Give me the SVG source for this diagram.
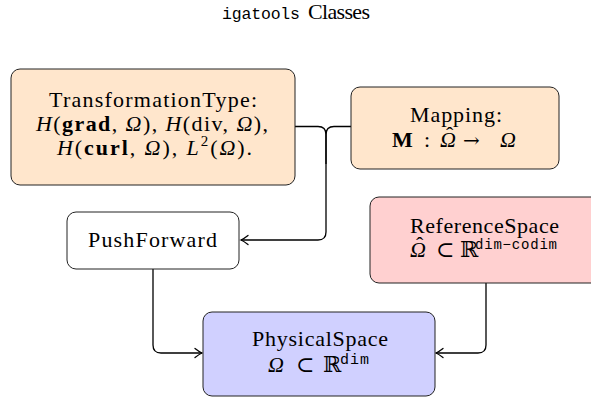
<svg xmlns="http://www.w3.org/2000/svg" width="591" height="398" viewBox="0 0 591 398">
  <style>
    .t { font-family: "Liberation Serif", "DejaVu Serif", serif; font-size: 22px; fill: #000; }
    .i { font-style: italic; }
    .b { font-weight: bold; }
    .m { font-family: "Liberation Mono", "DejaVu Sans Mono", monospace; fill: #000; }
    .arr { font-family: "DejaVu Serif", serif; font-size: 20px; }
    .box { stroke: #222; stroke-width: 1; }
    .orange { fill: #ffe6cc; }
    .red { fill: #ffd0d0; }
    .blue { fill: #d0d0ff; }
    .white { fill: #fff; }
    .edge { fill: none; stroke: #000; stroke-width: 1.3; }
  </style>
  <defs>
    <marker id="arrow" markerUnits="userSpaceOnUse" viewBox="-9 -6 11 12" refX="0" refY="0" markerWidth="11" markerHeight="12" orient="auto" overflow="visible">
      <path d="M-7,-4.5 Q-2.5,-1 0,0 Q-2.5,1 -7,4.5" fill="none" stroke="#000" stroke-width="1.3" stroke-linecap="round"/>
    </marker>
  </defs>

  <rect width="591" height="398" fill="#fff"/>

  <!-- title -->
  <g id="title">
    <text class="m" x="222" y="19" font-size="16.5" textLength="78">igatools</text>
    <text class="t" x="308" y="19" font-size="19" textLength="62">Classes</text>
  </g>

  <!-- connectors -->
  <g id="connectors">
    <path class="edge" d="M295,126.5 H318 Q326,126.5 326,134.5 V232 Q326,240 318,240 H241" marker-end="url(#arrow)"/>
    <path class="edge" d="M351,126.5 H334 Q326,126.5 326,134.5 V164"/>
    <path class="edge" d="M153,269 V345 Q153,353 161,353 H202" marker-end="url(#arrow)"/>
    <path class="edge" d="M486,283 V345 Q486,353 478,353 H436" marker-end="url(#arrow)"/>
  </g>

  <!-- nodes -->
  <g id="transformation-type">
    <rect class="box orange" x="11" y="69" width="284" height="116" rx="9"/>
    <text class="t" x="153" y="107" text-anchor="middle" textLength="208">TransformationType:</text>
    <text class="t" x="152" y="131" text-anchor="middle" textLength="232"><tspan class="i">H</tspan>(<tspan class="b">grad</tspan>, <tspan class="i">Ω</tspan>), <tspan class="i">H</tspan>(div, <tspan class="i">Ω</tspan>),</text>
    <text class="t" x="154.5" y="155" text-anchor="middle" textLength="195"><tspan class="i">H</tspan>(<tspan class="b">curl</tspan>, <tspan class="i">Ω</tspan>), <tspan class="i">L</tspan><tspan font-size="15" dy="-9">2</tspan><tspan dy="9">(</tspan><tspan class="i">Ω</tspan>).</text>
  </g>

  <g id="mapping">
    <rect class="box orange" x="351" y="87" width="208" height="82" rx="9"/>
    <text class="t" x="456" y="122" text-anchor="middle" textLength="92">Mapping:</text>
    <text class="t b" x="392" y="147">M</text>
    <text class="t" x="424" y="147">:</text>
    <!-- Omega with a hat accent -->
    <text class="t" x="440" y="147"><tspan class="i">Ω</tspan><tspan dx="-10" dy="-5">ˆ</tspan></text>
    <text class="t arr" x="463" y="147">→</text>
    <text class="t i" x="500" y="147">Ω</text>
  </g>

  <g id="push-forward">
    <rect class="box white" x="67" y="212" width="172" height="57" rx="9"/>
    <text class="t" x="152.5" y="247" text-anchor="middle" textLength="129">PushForward</text>
  </g>

  <g id="reference-space">
    <rect class="box red" x="370" y="197" width="230" height="86" rx="9"/>
    <text class="t" x="410" y="233" textLength="149">ReferenceSpace</text>
    <text class="t" x="410" y="257"><tspan class="i">Ω</tspan><tspan dx="-10" dy="-5">ˆ</tspan></text>
    <text class="t" x="436" y="257">⊂</text>
    <text class="t" x="460" y="257" font-size="19">ℝ</text>
    <text class="m" x="475" y="249" font-size="14" textLength="82">dim−codim</text>
  </g>

  <g id="physical-space">
    <rect class="box blue" x="203" y="312" width="232" height="84" rx="9"/>
    <text class="t" x="320" y="346" text-anchor="middle" textLength="136">PhysicalSpace</text>
    <text class="t i" x="268" y="372">Ω</text>
    <text class="t" x="296" y="372">⊂</text>
    <text class="t" x="323" y="372" font-size="19">ℝ</text>
    <text class="m" x="340" y="364" font-size="15" textLength="29">dim</text>
  </g>
</svg>
